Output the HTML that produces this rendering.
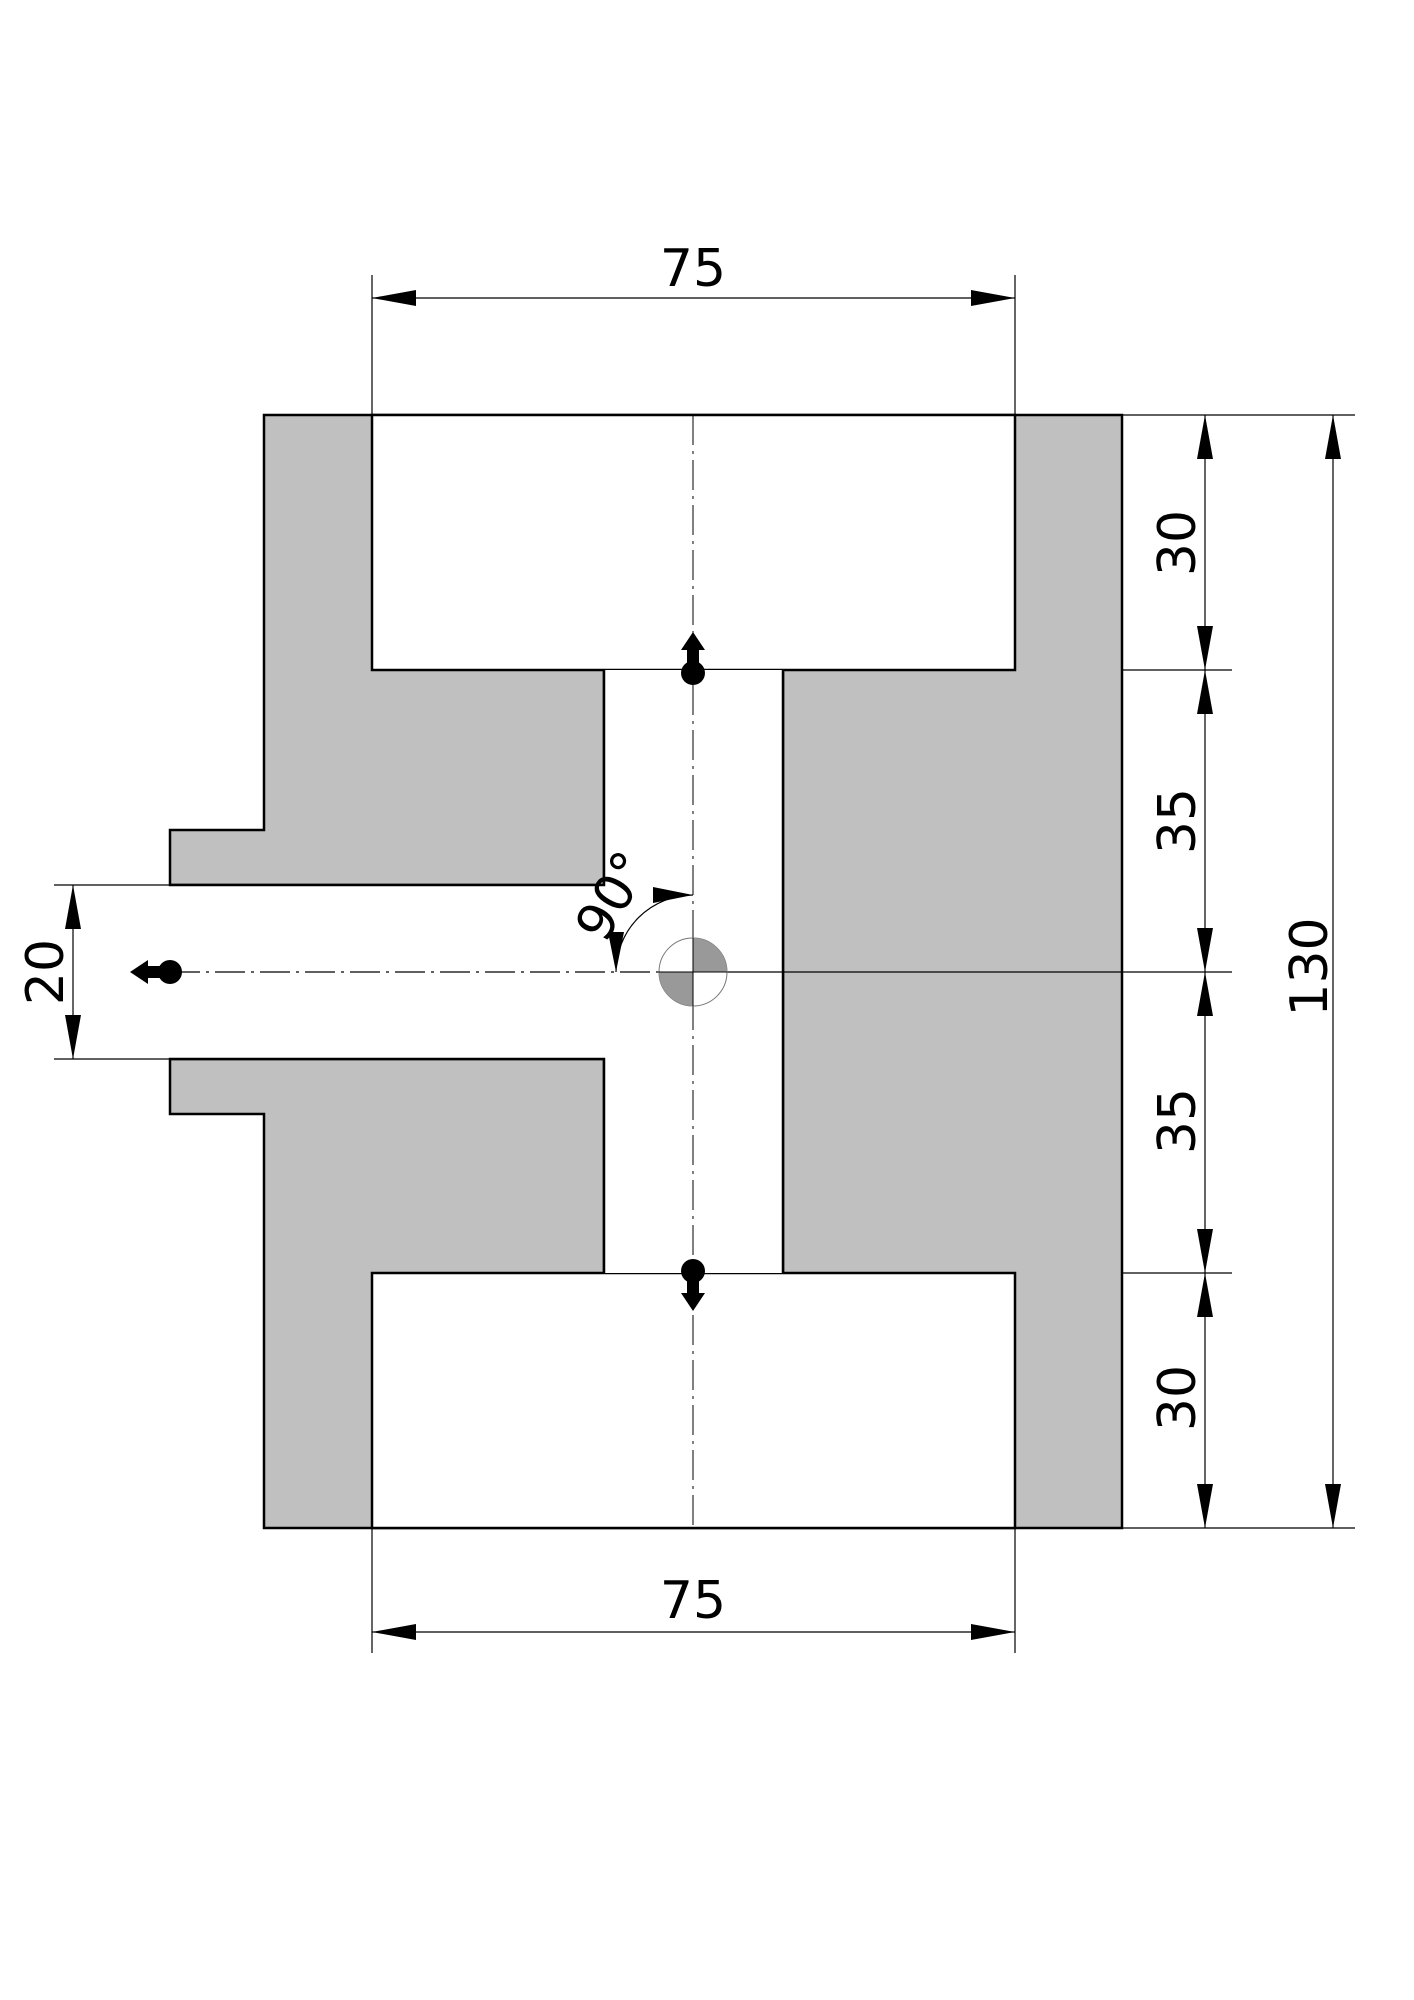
<!DOCTYPE html>
<html><head><meta charset="utf-8"><style>body{margin:0;background:#fff}svg{display:block}</style></head><body>
<svg width="1414" height="2000" viewBox="0 0 1414 2000" xmlns="http://www.w3.org/2000/svg" font-family="'DejaVu Sans','Liberation Sans',sans-serif">
<defs>
<marker id="a" viewBox="0 0 44 16" refX="44" refY="8" markerWidth="44" markerHeight="16" markerUnits="userSpaceOnUse" orient="auto-start-reverse"><path d="M0 0 L44 8 L0 16 Z" fill="#000"/></marker>
<marker id="s" viewBox="0 0 40 16" refX="40" refY="8" markerWidth="40" markerHeight="16" markerUnits="userSpaceOnUse" orient="auto-start-reverse"><path d="M0 0 L40 8 L0 16 Z" fill="#000"/></marker>
</defs>
<path d="M264 415 H1122 V1528 H264 V1114 H170 V1059 H604 V1273 H783 V670 H604 V885 H170 V830 H264 Z" fill="#c0c0c0" stroke="#000" stroke-width="2.5"/>
<rect x="372" y="415" width="643" height="255" fill="#fff" stroke="#000" stroke-width="2.5"/>
<rect x="372" y="1273" width="643" height="255" fill="#fff" stroke="#000" stroke-width="2.5"/>
<rect x="604" y="670" width="179" height="603" fill="#fff" stroke="none"/>
<rect x="170" y="885" width="440" height="174" fill="#fff" stroke="none"/>
<path d="M604 670 V885 H170 M170 1059 H604 V1273 M783 670 V1273" fill="none" stroke="#000" stroke-width="2.5"/>
<line x1="693" y1="415" x2="693" y2="1528" stroke="#000" stroke-width="1" stroke-dasharray="30 6 3 6"/>
<line x1="170" y1="972" x2="660" y2="972" stroke="#000" stroke-width="1.2" stroke-dasharray="30 6 3 6"/>
<line x1="727" y1="972" x2="1232" y2="972" stroke="#000" stroke-width="1.2"/>
<circle cx="693" cy="972" r="34" fill="#fff" stroke="#777" stroke-width="1"/>
<path d="M693 972 V938 A34 34 0 0 1 727 972 Z M693 972 V1006 A34 34 0 0 1 659 972 Z" fill="#999"/>
<line x1="659" y1="972" x2="727" y2="972" stroke="#000" stroke-width="1"/>
<line x1="693" y1="938" x2="693" y2="1006" stroke="#000" stroke-width="1"/>
<path d="M693 895 A77 77 0 0 0 616 972" fill="none" stroke="#000" stroke-width="1.2" marker-start="url(#s)" marker-end="url(#s)"/>
<text x="0" y="0" font-size="52" transform="translate(628,905) rotate(-60)" text-anchor="middle">90°</text>
<circle cx="693" cy="673" r="12" fill="#000"/><path d="M687 673 V650 H681 L693 632 L705 650 H699 V673 Z" fill="#000"/>
<circle cx="693" cy="1271" r="12" fill="#000"/><path d="M687 1271 V1293 H681 L693 1311 L705 1293 H699 V1271 Z" fill="#000"/>
<circle cx="170" cy="972" r="12" fill="#000"/><path d="M170 966 H148 V960 L130 972 L148 984 V978 H170 Z" fill="#000"/>
<g stroke="#000" stroke-width="1.2">
<line x1="372" y1="275" x2="372" y2="415"/><line x1="1015" y1="275" x2="1015" y2="415"/>
<line x1="372" y1="298" x2="1015" y2="298" marker-start="url(#a)" marker-end="url(#a)"/>
<line x1="372" y1="1528" x2="372" y2="1653"/><line x1="1015" y1="1528" x2="1015" y2="1653"/>
<line x1="372" y1="1632" x2="1015" y2="1632" marker-start="url(#a)" marker-end="url(#a)"/>
<line x1="1122" y1="415" x2="1355" y2="415"/><line x1="1122" y1="1528" x2="1355" y2="1528"/>
<line x1="1122" y1="670" x2="1232" y2="670"/><line x1="1122" y1="1273" x2="1232" y2="1273"/>
<line x1="1205" y1="415" x2="1205" y2="670" marker-start="url(#a)" marker-end="url(#a)"/>
<line x1="1205" y1="670" x2="1205" y2="972" marker-start="url(#a)" marker-end="url(#a)"/>
<line x1="1205" y1="972" x2="1205" y2="1273" marker-start="url(#a)" marker-end="url(#a)"/>
<line x1="1205" y1="1273" x2="1205" y2="1528" marker-start="url(#a)" marker-end="url(#a)"/>
<line x1="1333" y1="415" x2="1333" y2="1528" marker-start="url(#a)" marker-end="url(#a)"/>
<line x1="54" y1="885" x2="170" y2="885"/><line x1="54" y1="1059" x2="170" y2="1059"/>
<line x1="73" y1="885" x2="73" y2="1059" marker-start="url(#a)" marker-end="url(#a)"/>
</g>
<g font-size="52" text-anchor="middle" fill="#000">
<text x="693" y="286">75</text>
<text x="693" y="1618">75</text>
<text transform="translate(1195,543) rotate(-90)">30</text>
<text transform="translate(1195,821) rotate(-90)">35</text>
<text transform="translate(1195,1121) rotate(-90)">35</text>
<text transform="translate(1195,1398) rotate(-90)">30</text>
<text transform="translate(1327,967) rotate(-90)">130</text>
<text transform="translate(63,972) rotate(-90)">20</text>
</g>
</svg>
</body></html>
